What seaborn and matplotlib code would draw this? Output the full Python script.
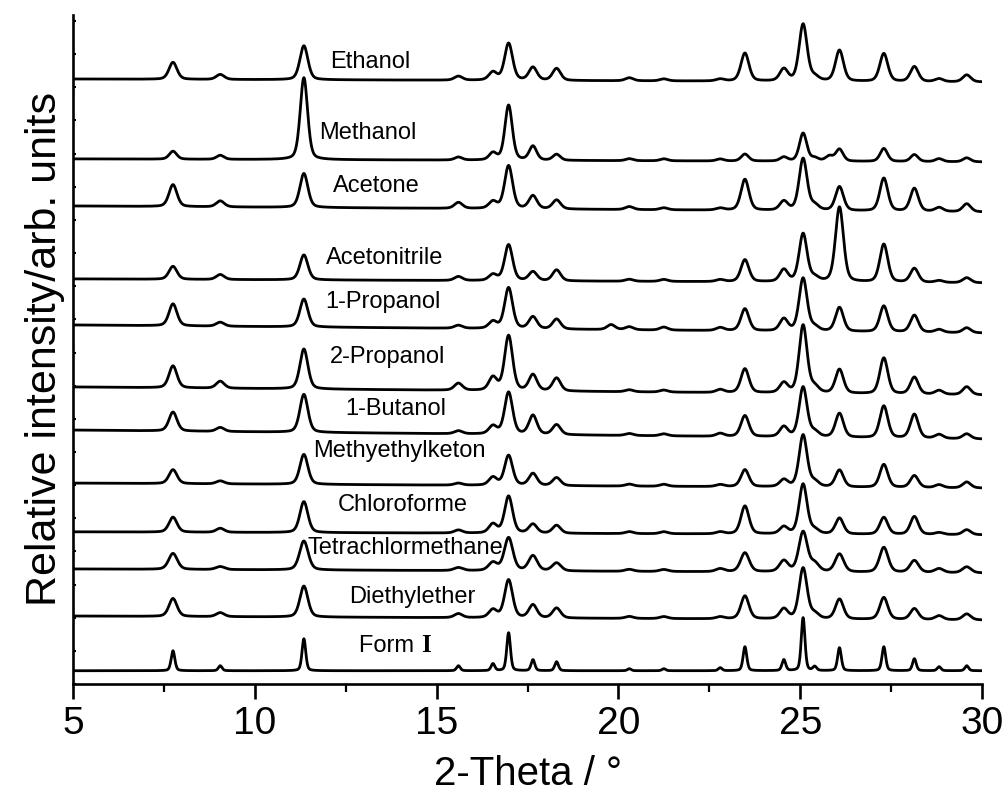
import numpy as np
import pandas as pd
import matplotlib
matplotlib.use("Agg")
import matplotlib.pyplot as plt
from matplotlib.ticker import MultipleLocator
import seaborn as sns

# ---------------- data ----------------
series_names = ["Ethanol", "Methanol", "Acetone", "Acetonitrile", "1-Propanol",
                "2-Propanol", "1-Butanol", "Methyethylketon", "Chloroforme",
                "Tetrachlormethane", "Diethylether", "Form I"]

# vertical stacking offset of each pattern (arb. units)
offsets = [18.25, 15.84, 14.42, 12.22, 10.83, 8.96, 7.66, 6.06, 4.59, 3.47, 2.05, 0.40]
# baseline drift from 5 deg to 30 deg (counts)
drift = [-3, -3, -6, -4, -8, -8, -9, -5, -3, -4, -4, 0]
# half width at half maximum of the reflections (deg)
hwhm = [0.13, 0.12, 0.13, 0.13, 0.13, 0.13, 0.13, 0.13, 0.13, 0.14, 0.13, 0.06]

# reflection positions (2-theta, deg)
peak_pos = [7.75, 9.05, 11.35, 15.6, 16.55, 16.98, 17.65, 18.3, 19.8, 20.3, 21.25,
            22.8, 23.48, 24.55, 25.08, 25.4, 25.8, 26.08, 27.3, 28.14, 28.82, 29.58]

# reflection heights (counts) per pattern
h_ethanol  = [17, 5, 34, 4, 8, 37, 13, 12, 0, 3, 2, 2, 28, 12, 57, 4, 0, 31, 28, 15, 3, 7]
h_methanol = [8, 4, 82, 3, 7, 55, 14, 6, 0, 2, 2, 2, 7, 4, 28, 3, 5, 12, 13, 7, 3, 4]
h_acetone  = [22, 6, 34, 6, 7, 43, 13, 9, 0, 3, 2, 2, 31, 9, 52, 5, 0, 24, 33, 23, 4, 8]
h_acetonitrile = [13, 5, 25, 4, 6, 36, 9, 11, 0, 2, 2, 2, 22, 12, 48, 4, 0, 75, 38, 14, 2, 5]
h_1propanol = [22, 4, 28, 3, 7, 41, 12, 10, 5, 3, 3, 3, 22, 12, 53, 4, 0, 24, 26, 17, 3, 5]
h_2propanol = [22, 7, 40, 7, 13, 55, 16, 13, 0, 2, 2, 3, 24, 10, 68, 6, 0, 24, 36, 17, 4, 8]
h_1butanol = [19, 4, 38, 3, 8, 42, 19, 10, 0, 2, 2, 3, 21, 10, 50, 5, 0, 24, 32, 24, 4, 5]
h_mek      = [14, 3, 30, 2, 8, 30, 12, 8, 0, 2, 2, 2, 17, 7, 52, 5, 0, 17, 23, 12, 3, 6]
h_chloro   = [15, 4, 31, 3, 9, 37, 9, 8, 0, 2, 2, 2, 28, 7, 50, 4, 0, 16, 17, 18, 2, 5]
h_tetra    = [16, 3, 29, 3, 8, 33, 15, 8, 0, 2, 2, 3, 19, 11, 40, 8, 0, 18, 25, 12, 4, 6]
h_diethyl  = [18, 4, 31, 4, 8, 38, 13, 10, 0, 2, 2, 2, 23, 10, 51, 5, 0, 20, 22, 11, 4, 6]
h_form1    = [20, 5, 32, 5, 7, 38, 11, 9, 0, 2, 2, 3, 24, 11, 53, 4, 0, 23, 24, 12, 4, 5]

heights = [h_ethanol, h_methanol, h_acetone, h_acetonitrile, h_1propanol, h_2propanol,
           h_1butanol, h_mek, h_chloro, h_tetra, h_diethyl, h_form1]

COUNTS_PER_UNIT = 33.15

# label placement (data coords)
label_x = [13.17, 13.11, 13.33, 13.58, 13.53, 13.64, 13.88, 13.97, 14.08, 14.13, 14.32, 13.72]
label_y = [18.76, 16.62, 15.02, 12.85, 11.52, 9.86, 8.30, 7.03, 5.40, 4.10, 2.62, 1.15]

# ---------------- build patterns ----------------
tt = np.arange(5.0, 30.0001, 0.01)
rows = []
for name, off, dr, w, hs in zip(series_names, offsets, drift, hwhm, heights):
    y = np.zeros_like(tt)
    for p, h in zip(peak_pos, hs):
        if h == 0:
            continue
        lor = 1.0 / (1.0 + ((tt - p) / w) ** 2)
        gau = np.exp(-np.log(2) * ((tt - p) / w) ** 2)
        y += h * (0.35 * lor + 0.65 * gau)
    y += dr * (tt - 5.0) / 25.0
    y = off + y / COUNTS_PER_UNIT
    rows.append(pd.DataFrame({"two_theta": tt, "intensity": y, "sample": name}))
df = pd.concat(rows, ignore_index=True)

# ---------------- plot ----------------
sns.set_theme(style="ticks")
plt.rcParams["font.family"] = ["Liberation Sans", "DejaVu Sans"]
plt.rcParams["text.color"] = "black"
plt.rcParams["axes.labelcolor"] = "black"
plt.rcParams["xtick.color"] = "black"
plt.rcParams["ytick.color"] = "black"

fig = plt.figure(figsize=(10.08, 7.95), dpi=100)
ax = fig.add_axes([73 / 1008, 1 - 684 / 795, (982 - 73) / 1008, (684 - 15) / 795])

for name in series_names:
    sub = df[df["sample"] == name]
    sns.lineplot(data=sub, x="two_theta", y="intensity", ax=ax, color="black",
                 lw=2.0, legend=False, estimator=None, sort=False)

ax.set_xlim(5, 30)
ax.set_ylim(0, (684 - 15) / COUNTS_PER_UNIT)

for name, lx, ly in zip(series_names, label_x, label_y):
    if name == "Form I":
        t = ax.text(lx, ly, "Form ", fontsize=17, ha="center", va="center",
                    color="black", family=["Liberation Sans", "DejaVu Sans"])
        ax.annotate("I", xy=(1, 0), xycoords=t, va="bottom", ha="left",
                    fontsize=18, fontweight="bold", color="black",
                    family=["Liberation Serif", "DejaVu Serif"])
    else:
        ax.text(lx, ly, name, fontsize=17, ha="center", va="center",
                color="black", family=["Liberation Sans", "DejaVu Sans"])

for s in ["top", "right"]:
    ax.spines[s].set_visible(False)
for s in ["left", "bottom"]:
    ax.spines[s].set_linewidth(1.9)
    ax.spines[s].set_color("black")

ax.xaxis.set_major_locator(MultipleLocator(5))
ax.xaxis.set_minor_locator(MultipleLocator(2.5))
ax.yaxis.set_major_locator(MultipleLocator(1))
ax.set_yticklabels([])
ax.tick_params(axis="x", which="major", direction="out", length=11, width=1.9,
               colors="black", pad=5)
ax.tick_params(axis="x", which="minor", direction="out", length=6, width=1.6,
               colors="black")
ax.tick_params(axis="y", which="major", direction="in", length=2.5, width=1.5,
               colors="black", left=True, labelleft=False)

for lab in ax.get_xticklabels():
    lab.set_family(["Liberation Sans Narrow", "Liberation Sans", "DejaVu Sans"])
    lab.set_fontsize(28)
    lab.set_color("black")

ax.set_xlabel("2-Theta / °", fontsize=29, color="black",
              family=["Liberation Sans Narrow", "Liberation Sans", "DejaVu Sans"],
              labelpad=9)
ax.set_ylabel("Relative intensity/arb. units", fontsize=31, color="black",
              family=["Liberation Sans", "DejaVu Sans"], labelpad=6)

ax.set_facecolor("white")
fig.patch.set_facecolor("white")
fig.savefig("out.png", dpi=100, facecolor="white")
